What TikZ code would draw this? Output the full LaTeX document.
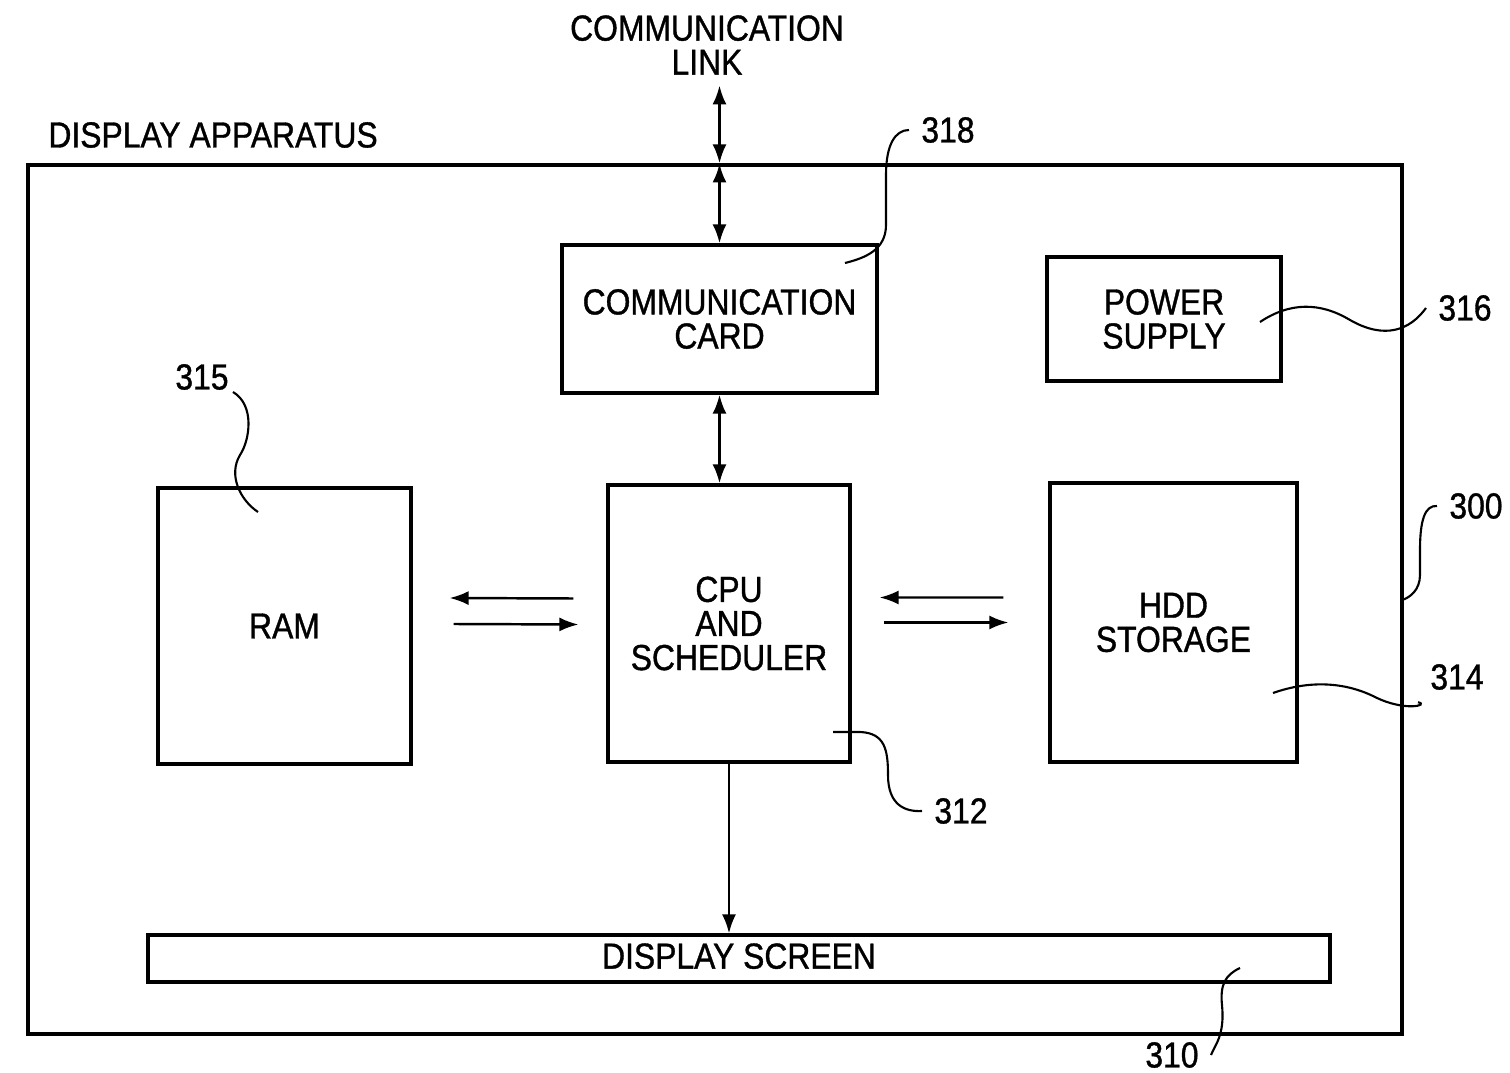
\documentclass[tikz,border=0pt]{standalone}
\usepackage{fontspec}
\setmainfont{Liberation Sans}[FakeStretch=0.88,FakeBold=1]
\usetikzlibrary{arrows.meta}

\begin{document}
\begin{tikzpicture}[x=0.1mm,y=-0.1mm,
  font=\fontsize{10.3}{9.7}\selectfont,
  box/.style={draw,line width=0.9pt,inner sep=0pt,align=center},
  link/.style={line width=0.8pt,{Latex[length=1.9mm,width=1.4mm]}-{Latex[length=1.9mm,width=1.4mm]}},
  ar/.style={line width=0.7pt,-{Latex[length=1.9mm,width=1.4mm]}},
  lead/.style={line width=0.6pt}]
\useasboundingbox (0,0) rectangle (1510,1073);
% outer box and blocks
\node[box,minimum width=137.4mm,minimum height=86.9mm] (app) at (715,599.5) {};
\node[anchor=west] (apptxt) at (36,135) {DISPLAY APPARATUS};
\node[align=center,inner sep=1mm] (link) at (707,45) {COMMUNICATION\\LINK};
\node[box,minimum width=31.5mm,minimum height=14.8mm] (card) at (719.5,319) {COMMUNICATION\\CARD};
\node[box,minimum width=23.4mm,minimum height=12.4mm] (power) at (1164,319) {POWER\\SUPPLY};
\node[box,minimum width=25.3mm,minimum height=27.6mm] (ram) at (284.5,626) {RAM};
\node[box,minimum width=24.2mm,minimum height=27.7mm] (cpu) at (729,623.5) {CPU\\AND\\SCHEDULER};
\node[box,minimum width=24.7mm,minimum height=27.9mm] (hdd) at (1173.5,622.5) {HDD\\STORAGE};
\node[box,minimum width=118.2mm,minimum height=4.7mm,text depth=0.5mm] (screen) at (739,958.5) {DISPLAY SCREEN};
% arrows
\draw[link] (link.south -| card.north) -- (card.north |- app.north);
\draw[link] (card.north |- app.north) -- (card.north);
\draw[link] (card.south) -- (card.south |- cpu.north);
\draw[ar] ([xshift=-3.3mm,yshift=2.5mm]cpu.west) -- ([xshift=3.7mm,yshift=2.8mm]ram.east);
\draw[ar] ([xshift=4.1mm,yshift=0.2mm]ram.east) -- ([xshift=-2.8mm,yshift=-0.1mm]cpu.west);
\draw[ar] ([xshift=-4.5mm,yshift=2.5mm]hdd.west) -- ([xshift=2.8mm,yshift=2.6mm]cpu.east);
\draw[ar] ([xshift=3.2mm,yshift=0.1mm]cpu.east) -- ([xshift=-4mm]hdd.west);
\draw[ar] (cpu.south) -- (cpu.south |- screen.north);
% reference numerals
\node (n318) at (948,130) {318};
\node (n316) at (1465,308) {316};
\node (n315) at (202,377) {315};
\node (n300) at (1476,506) {300};
\node (n314) at (1457,677) {314};
\node (n312) at (961,811) {312};
\node (n310) at (1172,1055) {310};
\coordinate (c318) at (845,263);
\coordinate (c316) at (1260,322);
\coordinate (c315) at (258,512);
\coordinate (c314) at (1273,693);
\coordinate (c312) at (833,732);
\coordinate (c310) at (1240,968);
\draw[lead] (n318.west) .. controls (895,130) and (886,145) .. (886,175) -- (886,225)
  .. controls (886,250) and (865,258) .. (c318);
\draw[lead] (c316) .. controls (1290,302) and (1320,302) .. (1350,320)
  .. controls (1385,340) and (1410,330) .. (n316.west);
\draw[lead] (233,392) .. controls (255,405) and (250,440) .. (240,455)
  .. controls (228,475) and (240,500) .. (c315);
\draw[lead] (n300.west) .. controls (1425,505) and (1420,520) .. (1420,550) -- (1420,575)
  .. controls (1420,590) and (1410,597) .. (app.east);
\draw[lead] (c314) .. controls (1310,680) and (1345,682) .. (1375,697)
  .. controls (1405,712) and (1430,705) .. (n314.south west);
\draw[lead] (c312) -- (860,732) .. controls (885,733) and (888,750) .. (888,775)
  .. controls (888,805) and (905,812) .. (n312.west);
\draw[lead] (c310) .. controls (1225,975) and (1220,985) .. (1222,1005)
  .. controls (1225,1035) and (1215,1045) .. (n310.east);
\end{tikzpicture}
\end{document}
